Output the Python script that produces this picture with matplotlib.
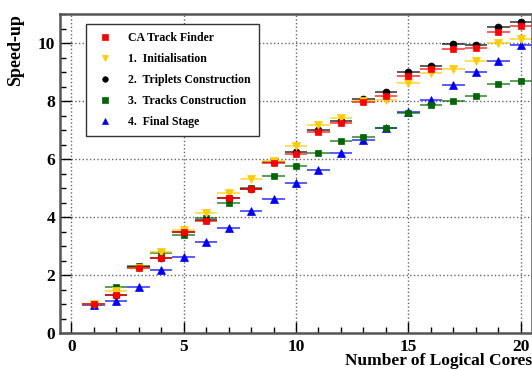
import numpy as np
import matplotlib
matplotlib.use("Agg")
from matplotlib import pyplot as plt
from matplotlib.ticker import MultipleLocator

cores = np.arange(1, 21)

ca_track_finder = [1.0, 1.3, 2.25, 2.58, 3.48, 3.85, 4.64, 4.97, 5.87, 6.17,
                   6.94, 7.24, 7.95, 8.17, 8.87, 9.09, 9.79, 9.82, 10.39, 10.6]
initialisation = [1.0, 1.45, 2.25, 2.8, 3.55, 4.13, 4.82, 5.31, 5.94, 6.46,
                  7.17, 7.4, 8.0, 8.05, 8.61, 8.95, 9.1, 9.38, 9.99, 10.13]
triplets = [1.0, 1.3, 2.28, 2.6, 3.5, 3.9, 4.65, 4.98, 5.9, 6.25,
            7.0, 7.32, 8.08, 8.3, 8.99, 9.22, 9.97, 9.94, 10.54, 10.71]
tracks = [1.0, 1.59, 2.3, 2.77, 3.38, 3.95, 4.5, 5.0, 5.41, 5.77,
          6.2, 6.62, 6.76, 7.08, 7.58, 7.86, 8.01, 8.18, 8.59, 8.7]
final_stage = [0.97, 1.1, 1.6, 2.17, 2.61, 3.15, 3.63, 4.22, 4.62, 5.16,
               5.62, 6.22, 6.66, 7.08, 7.63, 8.03, 8.55, 9.01, 9.39, 9.93]

series = [
    ("4.  Final Stage", final_stage, "#0000ff", "^", 6),
    ("3.  Tracks Construction", tracks, "#006600", "s", 5),
    ("2.  Triplets Construction", triplets, "black", "o", 5),
    ("1.  Initialisation", initialisation, "#ffcc00", "v", 6),
    ("CA Track Finder", ca_track_finder, "#ff0000", "s", 5),
]

font = ["Liberation Serif", "DejaVu Serif"]
plt.rcParams['font.family'] = font
plt.rcParams['font.weight'] = 'bold'

fig = plt.figure(figsize=(5.32, 3.70), dpi=100)
ax = fig.add_axes([60 / 532, 37 / 370, 472 / 532, 319 / 370])

handles = {}
for label, vals, color, marker, ms in series:
    ax.errorbar(cores, vals, xerr=0.5, fmt='none', ecolor=color, elinewidth=1.2, alpha=0.75)
    h, = ax.plot(cores, vals, linestyle='none', marker=marker, color=color,
                 markersize=ms, markeredgewidth=0.5, label=label)
    handles[label] = h

order = ["CA Track Finder", "1.  Initialisation", "2.  Triplets Construction",
         "3.  Tracks Construction", "4.  Final Stage"]
leg = ax.legend([handles[k] for k in order], order, loc='upper left',
                bbox_to_anchor=(26 / 472, 1 - 10 / 319), borderaxespad=0,
                fancybox=False, edgecolor='#333333', framealpha=1, markerscale=0.8,
                prop={'family': font, 'weight': 'bold', 'size': 8.5},
                handletextpad=1.1, labelspacing=0.75, borderpad=0.7, handlelength=1.8)
leg.get_frame().set_linewidth(1.0)

ax.set_xlim(-0.5, 20.5)
ax.set_ylim(0, 11)
ax.xaxis.set_major_locator(MultipleLocator(5))
ax.xaxis.set_minor_locator(MultipleLocator(1))
ax.yaxis.set_major_locator(MultipleLocator(2))
ax.yaxis.set_minor_locator(MultipleLocator(0.5))
ax.grid(True, which='major', linestyle=':', color='#666666', linewidth=1.0)
ax.tick_params(which='both', direction='in', top=False, right=False, labelsize=12.5, colors='black')
ax.tick_params(which='major', length=8, width=1.0)
ax.tick_params(axis='x', pad=4)
ax.tick_params(which='minor', length=4, width=1.0)
for lab in ax.get_xticklabels() + ax.get_yticklabels():
    lab.set_fontweight('bold')

for s in ax.spines.values():
    s.set_color('#555555')
    s.set_linewidth(1.8)

ax.set_xlabel('Number of Logical Cores', loc='right', fontsize=12.5, fontweight='bold', labelpad=-1)
ax.set_ylabel('Speed-up', loc='top', fontsize=13, fontweight='bold', labelpad=10)

fig.savefig('out.png', dpi=100)
